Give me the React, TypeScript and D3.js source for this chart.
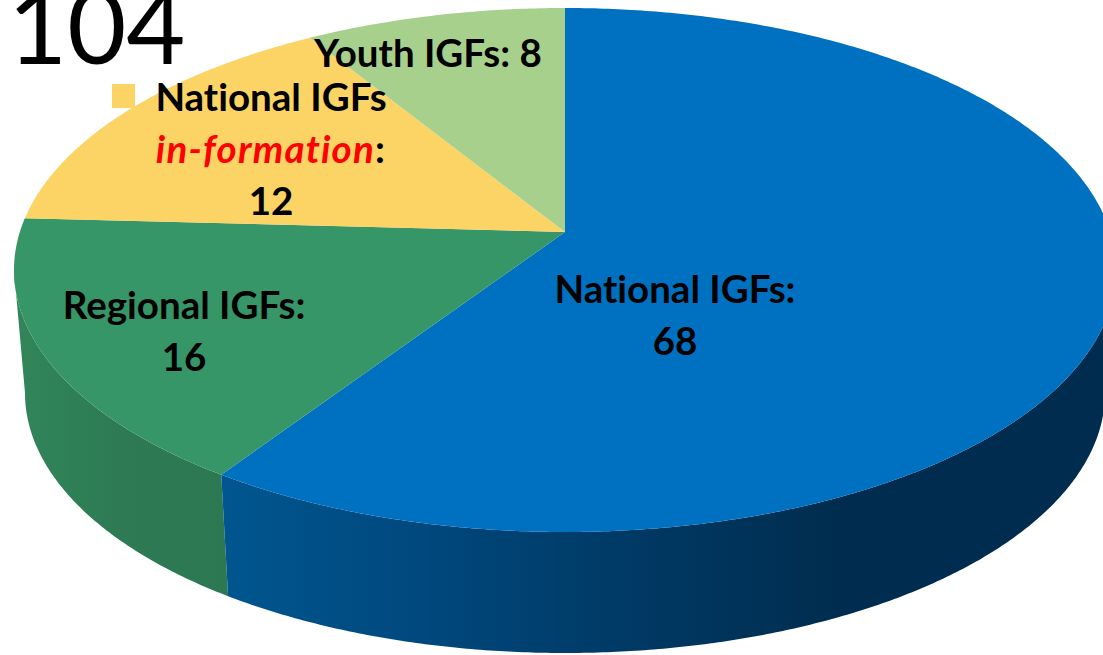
import React from 'react';
import * as d3 from 'd3';

const categories = ['National IGFs', 'Regional IGFs', 'National IGFs in-formation', 'Youth IGFs'];
const values = [68, 16, 12, 8];
const total = '104';
const topColors = ['#0070c0', '#379667', '#fbd465', '#a8d08d'];

const width = 1103;
const height = 655;

// the slide's pie is tilted in perspective, so the slices land on these rim angles (degrees, clockwise from 12 o'clock)
const rimAngles = [0, 218.6, 281.4, 332.4, 360];

const top = { cx: 565, cy: 270, a: 551, b: 262 };
const bottom = { cx: 565, cy: 393, a: 540, b: 260 };
const apex: [number, number] = [565, 232];

const pie = d3.pie<number>().sort(null).startAngle(0).endAngle(360)(values);
const rimScale = d3.scaleLinear()
  .domain([0, ...pie.map(d => d.endAngle)])
  .range(rimAngles);

type Ellipse = typeof top;
const rimPoint = (e: Ellipse, deg: number): [number, number] => {
  const t = (deg * Math.PI) / 180;
  return [e.cx + e.a * Math.sin(t), e.cy - e.b * Math.cos(t)];
};
const sweep = (from: number, to: number) => [...d3.range(from, to, 0.5), to];
const line = d3.line<[number, number]>();

const App: React.FC = () => {
  const slices = pie.map((d, i) => {
    const from = rimScale(d.startAngle);
    const to = rimScale(d.endAngle);
    const rim = sweep(from, to);
    // only the front half of the rim has a wall
    const wall = sweep(Math.max(from, 90), Math.min(to, 270));
    return {
      name: categories[i],
      color: topColors[i],
      face: line([apex, ...rim.map(r => rimPoint(top, r))]) + 'Z',
      side: line([...wall.map(r => rimPoint(top, r)), ...wall.slice().reverse().map(r => rimPoint(bottom, r))]) + 'Z',
    };
  });

  const font = 'Lato, "Open Sans", sans-serif';

  return (
    <svg width={width} height={height} style={{ position: 'fixed', left: 0, top: 0, background: '#fff', fontVariantLigatures: 'none' }} fontFamily={font}>
      <defs>
        <linearGradient id="blueSide" gradientUnits="userSpaceOnUse" x1="222" x2="1103" y1="0" y2="0">
          <stop offset="0" stopColor="#00568f" />
          <stop offset="0.2" stopColor="#004a80" />
          <stop offset="0.45" stopColor="#003a66" />
          <stop offset="0.7" stopColor="#002d4f" />
          <stop offset="1" stopColor="#002d4f" />
        </linearGradient>
        <linearGradient id="greenSide" gradientUnits="userSpaceOnUse" x1="13" x2="228" y1="0" y2="0">
          <stop offset="0" stopColor="#318659" />
          <stop offset="0.5" stopColor="#2d7a54" />
          <stop offset="1" stopColor="#2b7853" />
        </linearGradient>
      </defs>

      {/* side walls first, faces go over them */}
      <path d={slices[1].side} fill="url(#greenSide)" />
      <path d={slices[0].side} fill="url(#blueSide)" />
      {slices.map(s => (
        <path key={s.name} d={s.face} fill={s.color} />
      ))}

      <text x={8} y={64} fontSize={102} fill="#000">{total}</text>

      <g fontSize={38.5} fontWeight={700} fill="#000" textAnchor="middle">
        <text x={428} y={67}>Youth IGFs: {values[3]}</text>
        <text x={271} y={111}>National IGFs</text>
        <text x={271} y={163} letterSpacing={1.2}>
          <tspan fill="#ff0000" fontStyle="italic">in-formation</tspan>:
        </text>
        <text x={271} y={215}>{values[2]}</text>
        <text x={184} y={319}>Regional IGFs:</text>
        <text x={184} y={371}>{values[1]}</text>
        <text x={675} y={303}>National IGFs:</text>
        <text x={675} y={355}>{values[0]}</text>
      </g>

      <rect x={112} y={84} width={23} height={24} fill={topColors[2]} />
    </svg>
  );
};

export default App;
